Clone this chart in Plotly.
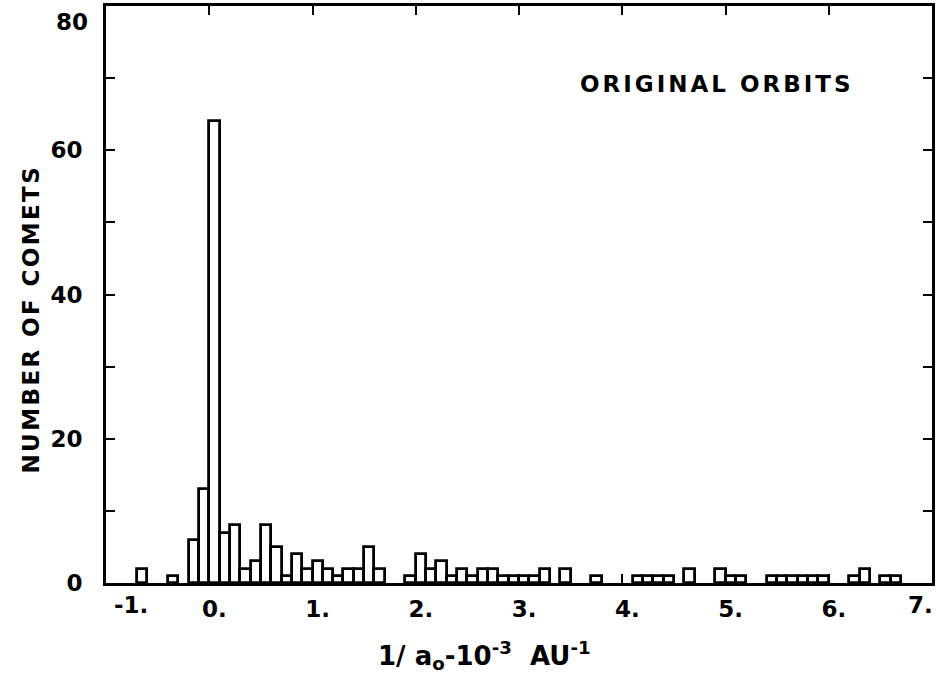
import plotly.graph_objects as go

# Histogram of original orbits: bin left edges (units of 10^-3 AU^-1), bin width 0.1
bin_left = [-0.7, -0.4, -0.2, -0.1, 0.0, 0.1, 0.2, 0.3, 0.4, 0.5, 0.6, 0.7, 0.8, 0.9,
            1.0, 1.1, 1.2, 1.3, 1.4, 1.5, 1.6, 1.9, 2.0, 2.1, 2.2, 2.3, 2.4, 2.5, 2.6,
            2.7, 2.8, 2.9, 3.0, 3.1, 3.2, 3.4, 3.7, 4.1, 4.2, 4.3, 4.4, 4.6, 4.9, 5.0,
            5.1, 5.4, 5.5, 5.6, 5.7, 5.8, 5.9, 6.2, 6.3, 6.5, 6.6]
counts = [2, 1, 6, 13, 64, 7, 8, 2, 3, 8, 5, 1, 4, 2,
          3, 2, 1, 2, 2, 5, 2, 1, 4, 2, 3, 1, 2, 1, 2,
          2, 1, 1, 1, 1, 2, 2, 1, 1, 1, 1, 1, 2, 2, 1,
          1, 1, 1, 1, 1, 1, 1, 1, 2, 1, 1]
bin_width = 0.1

x_tickvals = [-1, 0, 1, 2, 3, 4, 5, 6, 7]
x_ticktext = ["-1.", "0.", "1.", "2.", "3.", "4.", "5.", "6.", "7."]
y_tickvals = [0, 20, 40, 60, 80]
y_ticktext = ["0", "20", "40", "60", "80"]
y_minor_vals = [10, 30, 50, 70]

FONT = "DejaVu Sans"
TICKFONT = dict(family=FONT, size=23, color="black", weight="bold")

fig = go.Figure()
fig.add_trace(go.Bar(
    x=[b + bin_width / 2 for b in bin_left],
    y=counts,
    width=bin_width,
    marker=dict(color="white", line=dict(color="black", width=2.8)),
    showlegend=False,
))

# inner tick labels go on the axes; those at the frame edges are drawn nudged inward
fig.update_layout(
    width=940, height=679,
    margin=dict(l=106, r=8, t=6, b=96),
    paper_bgcolor="white", plot_bgcolor="white",
    font=dict(family=FONT, color="black"),
    xaxis=dict(
        range=[-1, 7], tickvals=x_tickvals[1:-1], ticktext=x_ticktext[1:-1],
        ticks="inside", ticklen=9, tickwidth=2, tickcolor="black",
        showline=True, linecolor="black", linewidth=3, mirror="ticks",
        showgrid=False, zeroline=False, automargin=False,
        tickfont=TICKFONT, ticklabelstandoff=3, ticklabelshift=5,
    ),
    yaxis=dict(
        range=[0, 80], tickvals=y_tickvals[:-1], ticktext=y_ticktext[:-1],
        ticks="inside", ticklen=9, tickwidth=2, tickcolor="black",
        minor=dict(tickvals=y_minor_vals, ticks="inside", ticklen=9, tickwidth=2,
                   tickcolor="black", showgrid=False),
        showline=True, linecolor="black", linewidth=3, mirror="ticks",
        showgrid=False, zeroline=False, automargin=False,
        tickfont=TICKFONT, ticklabelstandoff=16,
    ),
    bargap=0,
)

# edge tick labels
fig.add_annotation(xref="x", yref="paper", x=x_tickvals[0], y=0, xanchor="left",
                   yanchor="top", xshift=6, yshift=-7, text=x_ticktext[0],
                   showarrow=False, font=TICKFONT)
fig.add_annotation(xref="x", yref="paper", x=x_tickvals[-1], y=0, xanchor="right",
                   yanchor="top", xshift=3, yshift=-7, text=x_ticktext[-1],
                   showarrow=False, font=TICKFONT)
fig.add_annotation(xref="paper", yref="y", x=0, y=y_tickvals[-1], xanchor="right",
                   yanchor="top", xshift=-16, yshift=-1, text=y_ticktext[-1],
                   showarrow=False, font=TICKFONT)

fig.add_annotation(
    xref="paper", yref="paper", x=-0.091, y=0.458, xanchor="center", yanchor="middle",
    textangle=-90,
    text='<span style="letter-spacing:2.4px">NUMBER OF COMETS</span>',
    showarrow=False, font=dict(family=FONT, size=23, color="black", weight="bold"),
)
fig.add_annotation(
    xref="paper", yref="paper", x=0.74, y=0.865, xanchor="center", yanchor="middle",
    text='<span style="letter-spacing:3px">ORIGINAL ORBITS</span>',
    showarrow=False, font=dict(family=FONT, size=23, color="black", weight="bold"),
)
fig.add_annotation(
    xref="paper", yref="paper", x=0.458, y=-0.125, xanchor="center", yanchor="middle",
    text="1/ a<sub>o</sub>-10<sup>-3</sup>  AU<sup>-1</sup>",
    showarrow=False, font=dict(family=FONT, size=26, color="black", weight="bold"),
)

fig.write_html("out.html", config={"displayModeBar": False},
               post_script="document.body.style.margin='0';")
